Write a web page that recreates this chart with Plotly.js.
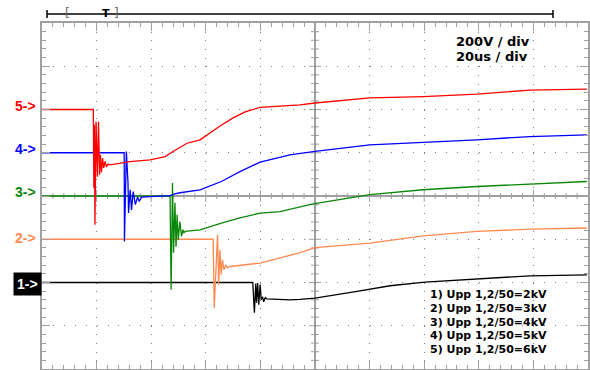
<!DOCTYPE html>
<html><head><meta charset="utf-8">
<script src="https://cdn.plot.ly/plotly-3.0.1.min.js"></script>
<style>html,body{margin:0;padding:0;background:#fff}#chart{width:590px;height:370px}</style>
</head><body><div id="chart"></div>
<script>
// time in microseconds (20 us/div), values in volts (200 V/div), screen offsets included
const t1 = [0, 77.2, 77.8, 78.3, 78.6, 79.0, 79.4, 79.9, 80.3, 80.8, 81.2, 81.8, 82.4, 90.8, 94.5, 100, 115.4, 127.5, 140.3, 159.3, 178.8, 199.6];
const v1 = [-400, -400, -540, -405, -494, -402, -503, -410, -480, -466, -489, -470, -476, -480, -478, -472, -441, -415, -398, -384, -369, -365];

const t2 = [0, 62.7, 63.1, 64.3, 64.7, 65.2, 65.6, 66.1, 66.6, 67.3, 67.9, 68.9, 79.9, 87.2, 94.5, 100, 120.1, 139.6, 159.3, 178.8, 199.6];
const v2 = [-200, -200, -518, -179, -410, -249, -364, -295, -341, -318, -332, -326, -310, -285, -262, -239, -218, -184, -164, -153, -148];

const t3 = [0, 46.9, 47.3, 47.8, 48.2, 48.7, 49.1, 49.5, 49.9, 50.5, 51.1, 51.6, 52.0, 52.4, 57.9, 65.7, 72.5, 79.9, 87.2, 99.3, 120.1, 139.6, 159.3, 178.8, 199.6];
const v3 = [0, 0, -433, 60, -262, -31, -235, -87, -202, -118, -187, -156, -170, -164, -157, -125, -101, -79, -72, -36, 6, 29, 44, 55, 67];

const t4 = [0, 30.1, 30.2, 30.9, 31.5, 31.7, 32.3, 32.8, 33.4, 34.2, 35.0, 35.6, 36.5, 40.0, 46.9, 48.7, 50.5, 57.9, 65.7, 72.5, 79.9, 90.8, 100, 120.1, 139.6, 159.3, 178.8, 199.6];
const v4 = [200, 200, -210, 206, 60, -78, 29, -64, 20, -40, -4, -25, -5, -2, 2, 10, 15, 28, 67, 113, 157, 190, 206, 236, 247, 260, 275, 283];

const t5 = [0, 18.8, 19.0, 19.2, 19.4, 19.8, 20.3, 20.7, 21.1, 21.4, 21.8, 22.2, 22.6, 23.1, 23.6, 24.2, 24.9, 32.2, 39.6, 45.1, 48.0, 50.5, 53.1, 57.9, 61.5, 65.2, 70.0, 74.4, 79.9, 87.2, 94.5, 100, 120.1, 139.6, 159.3, 178.8, 199.6];
const v5 = [400, 400, 38, 330, -133, 343, 89, 343, 98, 190, 110, 175, 130, 160, 135, 148, 144, 159, 167, 182, 206, 223, 244, 260, 292, 324, 361, 389, 410, 417, 421, 430, 454, 460, 471, 490, 494];

const channelNames = ['1', '2', '3', '4', '5'];
const channelLevels = [-400, -200, 0, 200, 400];
const channelColors = ['#000000', '#ff8a50', '#0a870a', '#0000ff', '#ff0000'];
const scaleLines = ['200V / div', '20us / div'];
const legendLines = ['1) Upp 1,2/50=2kV', '2) Upp 1,2/50=3kV', '3) Upp 1,2/50=4kV', '4) Upp 1,2/50=5kV', '5) Upp 1,2/50=6kV'];
const timeRange = [0, 200];
const voltRange = [-800, 800];

const times = [t1, t2, t3, t4, t5];
const values = [v1, v2, v3, v4, v5];

const traces = times.map((t, i) => ({
  x: t, y: values[i], type: 'scatter', mode: 'lines',
  line: {color: channelColors[i], width: 1.3},
  hoverinfo: 'skip', showlegend: false
}));

const gray = '#a0a0a0';
const shapes = [];
// center cross line (vertical)
shapes.push({type: 'line', xref: 'x', yref: 'paper', x0: 100, x1: 100, y0: 0, y1: 1, layer: 'below', line: {color: gray, width: 2}});
// ticks on center lines
for (let t = timeRange[0] + 4; t < timeRange[1]; t += 4) {
  const major = Math.abs(t / 20 - Math.round(t / 20)) < 1e-6;
  const L = major ? 6 : 3;
  shapes.push({type: 'line', xref: 'x', yref: 'y', ysizemode: 'pixel', yanchor: 0, x0: t, x1: t, y0: -L, y1: L, layer: 'below', line: {color: gray, width: 1}});
}
for (let v = voltRange[0] + 40; v < voltRange[1]; v += 40) {
  const major = Math.abs(v / 200 - Math.round(v / 200)) < 1e-6;
  const L = major ? 6 : 4;
  shapes.push({type: 'line', xref: 'x', yref: 'y', xsizemode: 'pixel', xanchor: 100, x0: -L, x1: L, y0: v, y1: v, layer: 'below', line: {color: gray, width: 1}});
}
// top memory bar
shapes.push({type: 'line', xref: 'paper', yref: 'paper', x0: 0.0092, x1: 0.9359, y0: 1.026, y1: 1.026, line: {color: '#000', width: 1.5}});
shapes.push({type: 'line', xref: 'paper', yref: 'paper', x0: 0.0092, x1: 0.0092, y0: 1.0145, y1: 1.0376, line: {color: '#000', width: 1.5}});
shapes.push({type: 'line', xref: 'paper', yref: 'paper', x0: 0.9359, x1: 0.9359, y0: 1.0145, y1: 1.0376, line: {color: '#000', width: 1.5}});

const annotations = [];
channelNames.forEach((n, i) => {
  if (i === 0) {
    annotations.push({xref: 'paper', yref: 'y', x: 0, y: channelLevels[i], xanchor: 'right', yanchor: 'middle', yshift: -1,
      text: '<b>' + n + '-&gt;</b>', showarrow: false, bgcolor: '#000', borderpad: 3,
      font: {family: 'Liberation Sans, Arial', size: 14, color: '#fff'}});
  } else {
    annotations.push({xref: 'paper', yref: 'y', x: -0.0075, y: channelLevels[i], xanchor: 'right', yanchor: 'middle', yshift: i === 1 ? 1 : 4,
      text: '<b>' + n + '-&gt;</b>', showarrow: false,
      font: {family: 'Liberation Sans, Arial', size: 14, color: channelColors[i]}});
  }
});
scaleLines.forEach((s, i) => {
  annotations.push({xref: 'x', yref: 'y', x: 150.9, y: i === 0 ? 714 : 645, xanchor: 'left', yanchor: 'middle',
    text: '<b>' + s + '</b>', showarrow: false, font: {family: 'DejaVu Sans', size: 13, color: '#000'}});
});
const legY = [-456, -522, -584, -646, -708];
legendLines.forEach((s, i) => {
  annotations.push({xref: 'x', yref: 'y', x: 141.4, y: legY[i], xanchor: 'left', yanchor: 'middle',
    text: '<b>' + s + '</b>', showarrow: false, font: {family: 'DejaVu Sans', size: 11, color: '#000'}});
});
// top bar markers
annotations.push({xref: 'paper', yref: 'paper', x: (67 - 42) / 546, y: 1.028, xanchor: 'center', yanchor: 'middle', text: '[', showarrow: false, font: {family: 'DejaVu Sans', size: 12, color: '#666'}});
annotations.push({xref: 'paper', yref: 'paper', x: (105.5 - 42) / 546, y: 1.028, xanchor: 'center', yanchor: 'middle', text: '<b>T</b>', showarrow: false, font: {family: 'DejaVu Sans', size: 11, color: '#000'}});
annotations.push({xref: 'paper', yref: 'paper', x: (116.5 - 42) / 546, y: 1.028, xanchor: 'center', yanchor: 'middle', text: ']', showarrow: false, font: {family: 'DejaVu Sans', size: 12, color: '#666'}});

const layout = {
  width: 590, height: 370,
  margin: {l: 42, r: 2, t: 23, b: 1},
  paper_bgcolor: '#fff', plot_bgcolor: '#fff',
  showlegend: false,
  xaxis: {range: timeRange, dtick: 20, tick0: 0, ticks: 'inside', ticklen: 8, tickcolor: gray, tickwidth: 1,
    mirror: 'allticks', showline: true, linecolor: gray, linewidth: 2,
    showgrid: true, gridcolor: '#808080', gridwidth: 1, griddash: '1px,7.65px',
    zeroline: false, showticklabels: false, fixedrange: true,
    minor: {dtick: 4, tick0: 0, ticks: 'inside', ticklen: 4, tickcolor: gray, tickwidth: 1, showgrid: false}},
  yaxis: {range: voltRange, dtick: 200, tick0: 0, ticks: 'inside', ticklen: 8, tickcolor: gray, tickwidth: 1,
    mirror: 'allticks', showline: true, linecolor: gray, linewidth: 2,
    showgrid: true, gridcolor: '#808080', gridwidth: 1, griddash: '1px,9.92px',
    zeroline: true, zerolinecolor: gray, zerolinewidth: 2, showticklabels: false, fixedrange: true,
    minor: {dtick: 40, tick0: 0, ticks: 'inside', ticklen: 4, tickcolor: gray, tickwidth: 1, showgrid: false}},
  shapes: shapes,
  annotations: annotations
};

Plotly.newPlot('chart', traces, layout, {staticPlot: true, displayModeBar: false});
</script>
</body></html>
